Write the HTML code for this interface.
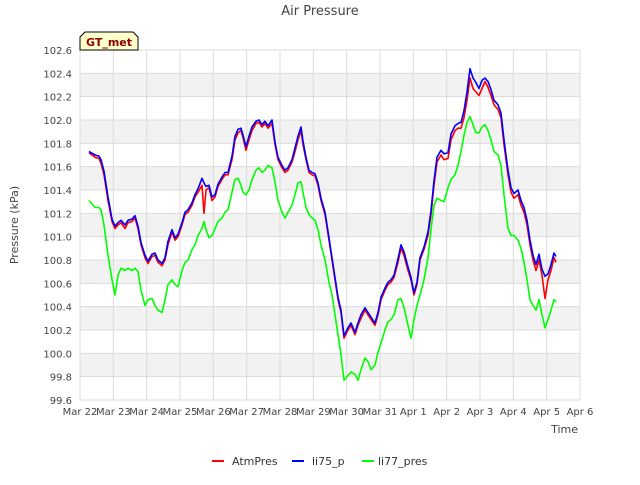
<!DOCTYPE html>
<html><head><meta charset="utf-8"><style>
body{margin:0;background:#fff;font-family:"Liberation Sans","DejaVu Sans",sans-serif}
svg text{font-family:"DejaVu Sans","Liberation Sans",sans-serif}
</style></head><body>
<svg id="chart" width="640" height="480" xmlns="http://www.w3.org/2000/svg">
<rect width="640" height="480" fill="#fff"/>
<text x="320" y="15" text-anchor="middle" font-size="13" fill="#444">Air Pressure</text>
<g id="bands"></g>
<g id="grid"></g>
<g id="yticks"></g>
<g id="xticks"></g>
<g id="series"></g>
<text transform="translate(18,225) rotate(-90)" text-anchor="middle" font-size="11" fill="#444">Pressure (kPa)</text>
<text x="578" y="433" text-anchor="end" font-size="11" fill="#444">Time</text>
<g>
<path d="M80,50 L80,37 L85,32 L133,32 L138,37 L138,50 Z" fill="#ffffcc" stroke="#000" stroke-width="1"/>
<text x="109" y="46" text-anchor="middle" font-size="11" font-weight="bold" fill="#8b0000">GT_met</text>
</g>
<g>
<g><line x1="212" y1="461" x2="224" y2="461" stroke="#f00" stroke-width="2"/><text x="232" y="465" font-size="11" fill="#333">AtmPres</text></g>
<g><line x1="292" y1="461" x2="304" y2="461" stroke="#00f" stroke-width="2"/><text x="312" y="465" font-size="11" fill="#333">li75_p</text></g>
<g><line x1="362" y1="461" x2="374" y2="461" stroke="#0f0" stroke-width="2"/><text x="378" y="465" font-size="11" fill="#333">li77_pres</text></g>
</g>
</svg>
<script>
const xTickLabels=["Mar 22","Mar 23","Mar 24","Mar 25","Mar 26","Mar 27","Mar 28","Mar 29","Mar 30","Mar 31","Apr 1","Apr 2","Apr 3","Apr 4","Apr 5","Apr 6"];
const yTickLabels=["99.6","99.8","100.0","100.2","100.4","100.6","100.8","101.0","101.2","101.4","101.6","101.8","102.0","102.2","102.4","102.6"];
const days=[0.27,0.45,0.57,0.63,0.72,0.84,0.96,1.05,1.14,1.23,1.35,1.44,1.56,1.65,1.74,1.83,1.95,2.04,2.16,2.25,2.34,2.46,2.55,2.64,2.76,2.85,2.94,3.06,3.15,3.24,3.36,3.45,3.54,3.66,3.72,3.78,3.87,3.96,4.05,4.14,4.26,4.35,4.44,4.56,4.65,4.74,4.83,4.89,4.98,5.07,5.16,5.28,5.37,5.46,5.55,5.64,5.76,5.85,5.94,6.06,6.15,6.24,6.36,6.45,6.54,6.63,6.69,6.78,6.87,6.96,7.05,7.14,7.23,7.35,7.47,7.56,7.65,7.74,7.83,7.92,8.04,8.13,8.25,8.34,8.43,8.55,8.64,8.73,8.85,8.94,9.03,9.15,9.24,9.33,9.42,9.54,9.63,9.72,9.84,9.93,10.02,10.11,10.2,10.32,10.44,10.53,10.62,10.71,10.83,10.92,11.04,11.13,11.25,11.34,11.43,11.52,11.61,11.7,11.79,11.88,11.97,12.06,12.15,12.24,12.33,12.42,12.54,12.63,12.72,12.84,12.93,13.02,13.14,13.23,13.32,13.41,13.5,13.59,13.68,13.77,13.86,13.95,14.04,14.13,14.22,14.28];
const atmPres=[101.72,101.68,101.67,101.63,101.53,101.31,101.13,101.07,101.10,101.12,101.07,101.12,101.13,101.16,101.07,100.93,100.82,100.77,100.83,100.84,100.78,100.75,100.80,100.93,101.04,100.97,101.00,101.10,101.19,101.21,101.27,101.34,101.38,101.44,101.20,101.40,101.42,101.31,101.34,101.43,101.49,101.53,101.53,101.66,101.83,101.89,101.91,101.85,101.74,101.83,101.91,101.97,101.98,101.94,101.97,101.93,101.97,101.79,101.66,101.59,101.55,101.57,101.64,101.73,101.83,101.91,101.79,101.66,101.55,101.53,101.52,101.44,101.31,101.19,100.97,100.80,100.63,100.46,100.35,100.13,100.20,100.24,100.16,100.24,100.30,100.37,100.33,100.29,100.24,100.33,100.46,100.54,100.59,100.61,100.65,100.78,100.90,100.84,100.71,100.63,100.50,100.59,100.80,100.89,101.01,101.19,101.44,101.64,101.70,101.66,101.67,101.83,101.91,101.93,101.93,102.02,102.17,102.36,102.27,102.24,102.21,102.27,102.33,102.28,102.21,102.13,102.09,102.02,101.79,101.53,101.38,101.33,101.36,101.27,101.21,101.10,100.93,100.80,100.71,100.80,100.67,100.47,100.63,100.71,100.82,100.78];
const li75p=[101.73,101.70,101.69,101.66,101.56,101.34,101.15,101.09,101.12,101.14,101.10,101.14,101.15,101.18,101.09,100.95,100.84,100.79,100.85,100.86,100.80,100.77,100.82,100.96,101.06,100.99,101.02,101.12,101.21,101.23,101.29,101.36,101.41,101.50,101.46,101.43,101.44,101.34,101.36,101.45,101.51,101.55,101.55,101.69,101.86,101.92,101.93,101.87,101.77,101.86,101.94,101.99,102.00,101.96,101.99,101.95,102.00,101.81,101.68,101.61,101.57,101.59,101.66,101.76,101.86,101.94,101.82,101.68,101.57,101.55,101.54,101.46,101.33,101.21,100.99,100.82,100.65,100.48,100.37,100.15,100.22,100.26,100.18,100.26,100.33,100.39,100.35,100.31,100.26,100.35,100.48,100.56,100.61,100.63,100.67,100.81,100.93,100.87,100.74,100.65,100.52,100.61,100.82,100.91,101.04,101.22,101.48,101.68,101.74,101.71,101.72,101.88,101.95,101.97,101.98,102.08,102.24,102.44,102.36,102.32,102.27,102.34,102.36,102.33,102.26,102.17,102.13,102.06,101.83,101.57,101.42,101.37,101.40,101.31,101.25,101.14,100.97,100.84,100.76,100.85,100.72,100.66,100.68,100.76,100.86,100.83];
const li77pres=[101.31,101.25,101.25,101.23,101.10,100.84,100.63,100.50,100.67,100.73,100.71,100.73,100.71,100.73,100.70,100.54,100.41,100.46,100.47,100.41,100.37,100.35,100.46,100.59,100.63,100.59,100.57,100.71,100.78,100.80,100.89,100.93,101.01,101.07,101.13,101.06,100.99,101.01,101.07,101.13,101.16,101.21,101.23,101.38,101.49,101.50,101.44,101.38,101.36,101.40,101.49,101.57,101.59,101.55,101.57,101.61,101.59,101.47,101.31,101.21,101.16,101.21,101.27,101.36,101.46,101.47,101.38,101.25,101.19,101.16,101.14,101.06,100.93,100.80,100.61,100.50,100.33,100.16,99.99,99.77,99.81,99.84,99.82,99.77,99.86,99.96,99.93,99.86,99.90,100.01,100.09,100.20,100.27,100.29,100.33,100.46,100.47,100.39,100.24,100.13,100.29,100.41,100.50,100.63,100.82,101.06,101.27,101.33,101.31,101.30,101.42,101.49,101.53,101.61,101.73,101.87,101.98,102.03,101.96,101.89,101.89,101.94,101.96,101.91,101.83,101.73,101.70,101.61,101.36,101.07,101.01,101.01,100.97,100.90,100.78,100.63,100.46,100.41,100.37,100.46,100.33,100.22,100.29,100.37,100.46,100.44];

const NS="http://www.w3.org/2000/svg";
const L=80,R=580,T=50,B=400,yMin=99.6,yMax=102.6,dMax=15;
function xs(d){return L+(R-L)*d/dMax;}
function ys(v){return B-(B-T)*(v-yMin)/(yMax-yMin);}
function mk(tag,attrs,parent){const e=document.createElementNS(NS,tag);for(const k in attrs)e.setAttribute(k,attrs[k]);parent.appendChild(e);return e;}
const bands=document.getElementById('bands'),grid=document.getElementById('grid'),yt=document.getElementById('yticks'),xt=document.getElementById('xticks'),ser=document.getElementById('series');
mk('rect',{x:L,y:T,width:R-L,height:B-T,fill:'#fff'},bands);
for(let i=0;i<yTickLabels.length-1;i++){
  if(i%2===1){const r=mk('rect',{x:L,y:ys(yMin+0.2*(i+1)),width:R-L,height:ys(yMin+0.2*i)-ys(yMin+0.2*(i+1)),fill:'#f2f2f2'},bands);
  
  }
}
yTickLabels.forEach((lab,i)=>{const v=yMin+0.2*i,y=ys(v);
  const g=mk('line',{x1:L,x2:R,y1:y,y2:y,stroke:'#dcdcdc','stroke-width':1},grid);
  
  
  const t=mk('text',{x:72,y:y+4,'text-anchor':'end','font-size':10,fill:'#444'},yt);t.textContent=lab;
  
  
});
xTickLabels.forEach((lab,i)=>{const x=xs(i);
  const g=mk('line',{x1:x,x2:x,y1:T,y2:B,stroke:'#dcdcdc','stroke-width':1},grid);
  
  
  const t=mk('text',{x:x,y:415,'text-anchor':'middle','font-size':10,fill:'#444'},xt);t.textContent=lab;
  
  
});
function line(vals,color,name){const n=Math.min(days.length,vals.length);let d='';
  for(let i=0;i<n;i++)d+=(i?'L':'M')+xs(days[i]).toFixed(1)+','+ys(vals[i]).toFixed(1);
  const p=mk('path',{d:d,fill:'none',stroke:color,'stroke-width':1.6,'stroke-linejoin':'round'},ser);
  
  }
line(li77pres,'#00ff00','li77-pres-line');
line(atmPres,'#ff0000','atmpres-line');
line(li75p,'#0000ff','li75-p-line');
</script>
</body></html>
